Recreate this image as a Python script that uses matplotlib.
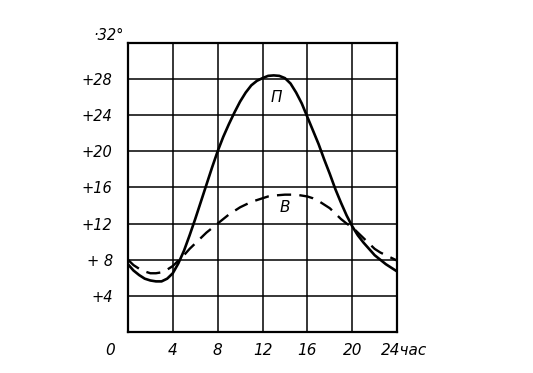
import matplotlib

matplotlib.use("Agg")
import matplotlib.pyplot as plt

# half-hour readings
hours = [h / 2 for h in range(49)]
temp_p = [7.5, 6.8, 6.3, 5.9, 5.7, 5.6, 5.6, 5.9, 6.5, 7.6, 9.0, 10.7, 12.5,
          14.4, 16.3, 18.2, 20.0, 21.6, 23.0, 24.3, 25.5, 26.5, 27.3, 27.8, 28.1,
          28.35, 28.4, 28.35, 28.1, 27.5, 26.5, 25.3, 23.8, 22.3, 20.8, 19.1, 17.5,
          15.8, 14.3, 12.9, 11.7, 10.7, 9.9, 9.2, 8.5, 8.0, 7.5, 7.1, 6.7]
temp_v = [8.0, 7.4, 7.0, 6.7, 6.5, 6.5, 6.6, 6.9, 7.3, 7.9, 8.5, 9.2, 9.8,
          10.4, 11.0, 11.5, 12.0, 12.5, 13.0, 13.4, 13.8, 14.1, 14.4, 14.6, 14.8,
          15.0, 15.1, 15.15, 15.2, 15.2, 15.2, 15.1, 15.0, 14.8, 14.5, 14.1, 13.7,
          13.1, 12.5, 12.0, 11.6, 11.0, 10.4, 9.8, 9.2, 8.8, 8.5, 8.2, 7.9]

x_ticks = [0, 4, 8, 12, 16, 20, 24]
x_labels = ["", "4", "8", "12", "16", "20", ""]
y_ticks = [4, 8, 12, 16, 20, 24, 28]
y_labels = ["+4", "+ 8", "+12", "+16", "+20", "+24", "+28"]

fig = plt.figure(figsize=(5.33, 3.73), dpi=100)
ax = fig.add_axes([0.240, 0.110, 0.505, 0.775])

ax.plot(hours, temp_p, color="black", lw=1.9, solid_capstyle="round")
ax.plot(hours, temp_v, color="black", lw=1.7, dashes=(6, 3.5))

ax.set_xlim(0, 24)
ax.set_ylim(0, 32)
ax.set_xticks(x_ticks)
ax.set_xticklabels(x_labels, fontsize=11, style="italic")
ax.set_yticks(y_ticks)
ax.set_yticklabels(y_labels, fontsize=10.5, style="italic")
ax.tick_params(axis="x", length=0, pad=8)
ax.tick_params(axis="y", length=0, pad=11)
ax.grid(True, color="black", lw=1.1)
for s in ax.spines.values():
    s.set_linewidth(1.6)

# "0" and "24час" sit off their grid lines in the original
ax.text(-1.6, -1.2, "0", fontsize=11, style="italic", ha="center", va="top",
        clip_on=False)
ax.text(22.6, -1.2, "24час", fontsize=11, style="italic", ha="left", va="top",
        clip_on=False)
ax.text(-0.4, 32.8, "·32°", fontsize=10.5, style="italic", ha="right", va="center",
        clip_on=False)

ax.text(13.2, 26.0, "П", fontsize=11, style="italic", ha="center", va="center")
ax.text(14.0, 13.8, "В", fontsize=11, style="italic", ha="center", va="center")

fig.savefig("out.png", dpi=100)
